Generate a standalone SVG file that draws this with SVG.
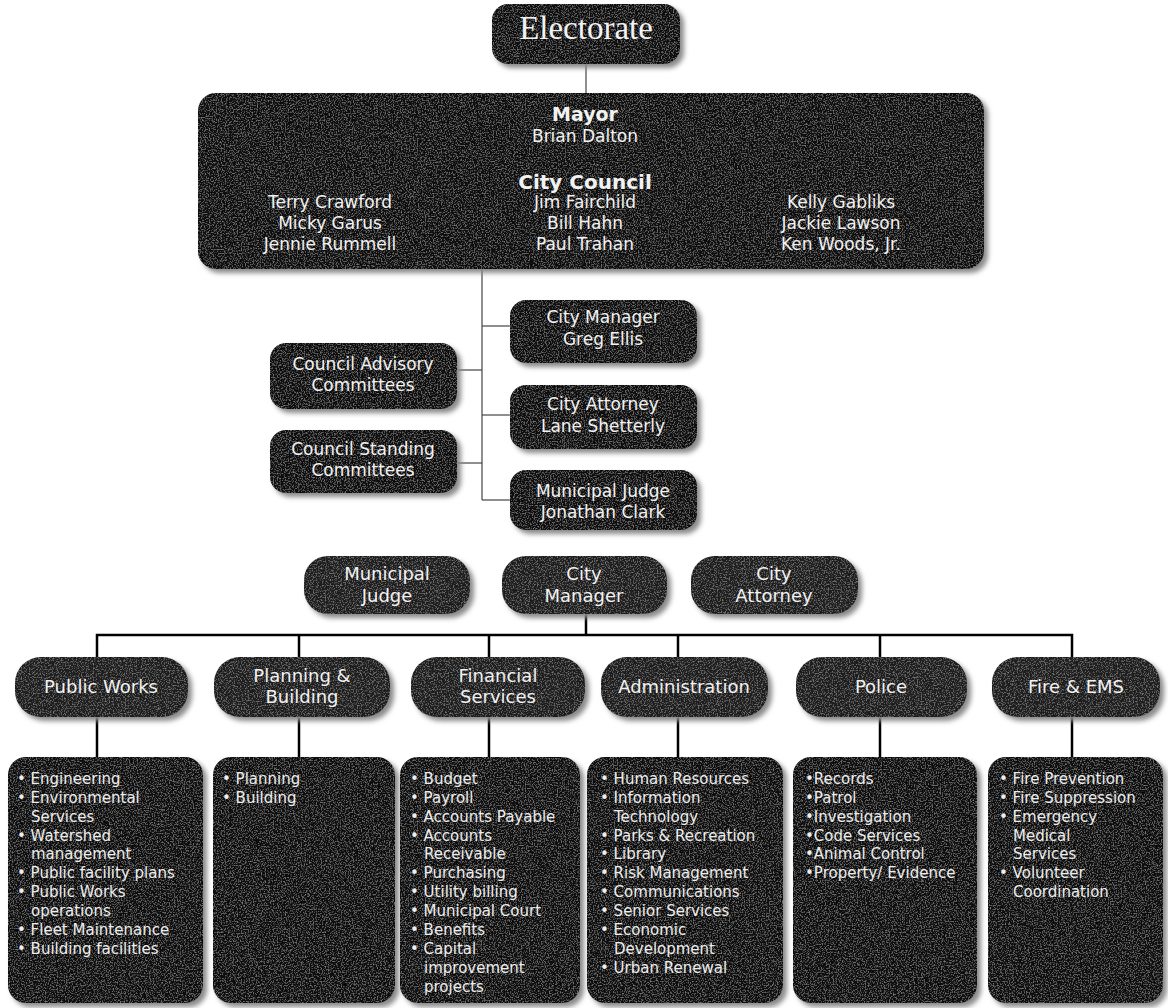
<svg xmlns="http://www.w3.org/2000/svg" width="1168" height="1008" viewBox="0 0 1168 1008">
<defs>
<filter id="sh" x="-10%" y="-10%" width="125%" height="130%">
<feGaussianBlur in="SourceAlpha" stdDeviation="2.5" result="b"/>
<feOffset in="b" dx="4" dy="4" result="o"/>
<feFlood flood-color="#8a8a8a"/>
<feComposite in2="o" operator="in" result="s"/>
<feTurbulence type="fractalNoise" baseFrequency="0.75" numOctaves="2" seed="5" result="n"/>
<feColorMatrix in="n" type="matrix" values="0 0 0 0 0.5  0 0 0 0 0.5  0 0 0 0 0.5  0 0 0 1.2 -0.58" result="w"/>
<feComposite in="w" in2="SourceAlpha" operator="in" result="g"/>
<feMerge><feMergeNode in="s"/><feMergeNode in="SourceGraphic"/><feMergeNode in="g"/></feMerge>
</filter>
</defs>
<style>
.box{fill:#0a0a0a;filter:url(#sh)}
.gbox{fill:#1a1a1a;filter:url(#sh)}
.t{font-family:"DejaVu Sans","Liberation Sans",sans-serif;fill:#f2f2f2;text-anchor:middle}
.b{font-weight:bold}
.n{font-size:17px}
.m{font-size:17px}
.d{font-size:18px}
.l{font-family:"DejaVu Sans","Liberation Sans",sans-serif;fill:#eeeeee;font-size:15px}
.thin{stroke:#444;stroke-width:1.2;fill:none}
.thick{stroke:#000;stroke-width:2.5;fill:none}
</style>
<rect width="1168" height="1008" fill="#fff"/>

<g id="connectors">
<line class="thin" x1="586" y1="64" x2="586" y2="93"/>
<line class="thin" x1="482" y1="268" x2="482" y2="500"/>
<line class="thin" x1="482" y1="326" x2="510" y2="326"/>
<line class="thin" x1="457" y1="370" x2="482" y2="370"/>
<line class="thin" x1="482" y1="415" x2="510" y2="415"/>
<line class="thin" x1="457" y1="463" x2="482" y2="463"/>
<line class="thin" x1="482" y1="500" x2="510" y2="500"/>
<line class="thick" x1="586" y1="614" x2="586" y2="635"/>
<path class="thick" d="M97 657V635H1072V657"/>
<line class="thick" x1="299" y1="635" x2="299" y2="657"/>
<line class="thick" x1="489" y1="635" x2="489" y2="657"/>
<line class="thick" x1="678" y1="635" x2="678" y2="657"/>
<line class="thick" x1="880" y1="635" x2="880" y2="657"/>
<line class="thick" x1="97" y1="717" x2="97" y2="757"/>
<line class="thick" x1="299" y1="717" x2="299" y2="757"/>
<line class="thick" x1="489" y1="717" x2="489" y2="757"/>
<line class="thick" x1="678" y1="717" x2="678" y2="757"/>
<line class="thick" x1="880" y1="717" x2="880" y2="757"/>
<line class="thick" x1="1072" y1="717" x2="1072" y2="757"/>
</g>

<g id="electorate">
<rect class="box" x="492" y="4" width="188" height="60" rx="16"/>
<text x="586" y="39" font-family="Liberation Serif,serif" font-size="33" fill="#f2f2f2" text-anchor="middle">Electorate</text>
</g>

<g id="mayor-council">
<rect class="box" x="198" y="93" width="786" height="176" rx="18"/>
<text class="t b" x="585" y="121" font-size="19">Mayor</text>
<text class="t n" x="585" y="142">Brian Dalton</text>
<text class="t b" x="585" y="189" font-size="20">City Council</text>
<text class="t n" x="330" y="208">Terry Crawford</text>
<text class="t n" x="330" y="229">Micky Garus</text>
<text class="t n" x="330" y="250">Jennie Rummell</text>
<text class="t n" x="585" y="208">Jim Fairchild</text>
<text class="t n" x="585" y="229">Bill Hahn</text>
<text class="t n" x="585" y="250">Paul Trahan</text>
<text class="t n" x="841" y="208">Kelly Gabliks</text>
<text class="t n" x="841" y="229">Jackie Lawson</text>
<text class="t n" x="841" y="250">Ken Woods, Jr.</text>
</g>

<g id="city-manager-greg-ellis">
<rect class="box" x="510" y="300" width="187" height="63" rx="16"/>
<text class="t m" x="603" y="323">City Manager</text>
<text class="t m" x="603" y="345">Greg Ellis</text>
</g>
<g id="council-advisory">
<rect class="box" x="270" y="343" width="187" height="66" rx="16"/>
<text class="t m" x="363" y="370">Council Advisory</text>
<text class="t m" x="363" y="391">Committees</text>
</g>
<g id="city-attorney-lane-shetterly">
<rect class="box" x="510" y="385" width="187" height="64" rx="16"/>
<text class="t m" x="603" y="410">City Attorney</text>
<text class="t m" x="603" y="432">Lane Shetterly</text>
</g>
<g id="council-standing">
<rect class="box" x="270" y="430" width="187" height="63" rx="16"/>
<text class="t m" x="363" y="455">Council Standing</text>
<text class="t m" x="363" y="476">Committees</text>
</g>
<g id="municipal-judge-jonathan-clark">
<rect class="box" x="510" y="470" width="187" height="60" rx="16"/>
<text class="t m" x="603" y="497">Municipal Judge</text>
<text class="t m" x="603" y="518">Jonathan Clark</text>
</g>

<g id="municipal-judge">
<rect class="gbox" x="304" y="556" width="166" height="58" rx="24"/>
<text class="t d" x="387" y="580">Municipal</text>
<text class="t d" x="387" y="602">Judge</text>
</g>
<g id="city-manager">
<rect class="gbox" x="502" y="556" width="165" height="58" rx="24"/>
<text class="t d" x="584" y="580">City</text>
<text class="t d" x="584" y="602">Manager</text>
</g>
<g id="city-attorney">
<rect class="gbox" x="691" y="556" width="167" height="58" rx="24"/>
<text class="t d" x="774" y="580">City</text>
<text class="t d" x="774" y="602">Attorney</text>
</g>

<g id="public-works">
<rect class="gbox" x="15" y="657" width="173" height="60" rx="26"/>
<text class="t d" x="101" y="693">Public Works</text>
</g>
<g id="planning-building">
<rect class="gbox" x="214" y="657" width="176" height="60" rx="26"/>
<text class="t d" x="302" y="682">Planning &amp;</text>
<text class="t d" x="302" y="703">Building</text>
</g>
<g id="financial-services">
<rect class="gbox" x="411" y="657" width="174" height="60" rx="26"/>
<text class="t d" x="498" y="682">Financial</text>
<text class="t d" x="498" y="703">Services</text>
</g>
<g id="administration">
<rect class="gbox" x="601" y="657" width="167" height="60" rx="26"/>
<text class="t d" x="684" y="693">Administration</text>
</g>
<g id="police">
<rect class="gbox" x="796" y="657" width="171" height="60" rx="26"/>
<text class="t d" x="881" y="693">Police</text>
</g>
<g id="fire-ems">
<rect class="gbox" x="992" y="657" width="168" height="60" rx="26"/>
<text class="t d" x="1076" y="693">Fire &amp; EMS</text>
</g>

<g id="public-works-list">
<rect class="box" x="8" y="757" width="195" height="246" rx="18"/>
<text class="l">
<tspan x="17" y="784">• Engineering</tspan>
<tspan x="17" y="803">• Environmental</tspan>
<tspan x="31" y="822">Services</tspan>
<tspan x="17" y="841">• Watershed</tspan>
<tspan x="31" y="859">management</tspan>
<tspan x="17" y="878">• Public facility plans</tspan>
<tspan x="17" y="897">• Public Works</tspan>
<tspan x="31" y="916">operations</tspan>
<tspan x="17" y="935">• Fleet Maintenance</tspan>
<tspan x="17" y="954">• Building facilities</tspan>
</text>
</g>
<g id="planning-building-list">
<rect class="box" x="213" y="757" width="182" height="246" rx="18"/>
<text class="l">
<tspan x="222" y="784">• Planning</tspan>
<tspan x="222" y="803">• Building</tspan>
</text>
</g>
<g id="financial-services-list">
<rect class="box" x="400" y="757" width="180" height="246" rx="18"/>
<text class="l">
<tspan x="410" y="784">• Budget</tspan>
<tspan x="410" y="803">• Payroll</tspan>
<tspan x="410" y="822">• Accounts Payable</tspan>
<tspan x="410" y="841">• Accounts</tspan>
<tspan x="424" y="859">Receivable</tspan>
<tspan x="410" y="878">• Purchasing</tspan>
<tspan x="410" y="897">• Utility billing</tspan>
<tspan x="410" y="916">• Municipal Court</tspan>
<tspan x="410" y="935">• Benefits</tspan>
<tspan x="410" y="954">• Capital</tspan>
<tspan x="424" y="973">improvement</tspan>
<tspan x="424" y="992">projects</tspan>
</text>
</g>
<g id="administration-list">
<rect class="box" x="587" y="757" width="196" height="246" rx="18"/>
<text class="l">
<tspan x="600" y="784">• Human Resources</tspan>
<tspan x="600" y="803">• Information</tspan>
<tspan x="614" y="822">Technology</tspan>
<tspan x="600" y="841">• Parks &amp; Recreation</tspan>
<tspan x="600" y="859">• Library</tspan>
<tspan x="600" y="878">• Risk Management</tspan>
<tspan x="600" y="897">• Communications</tspan>
<tspan x="600" y="916">• Senior Services</tspan>
<tspan x="600" y="935">• Economic</tspan>
<tspan x="614" y="954">Development</tspan>
<tspan x="600" y="973">• Urban Renewal</tspan>
</text>
</g>
<g id="police-list">
<rect class="box" x="793" y="757" width="184" height="246" rx="18"/>
<text class="l">
<tspan x="805" y="784">•Records</tspan>
<tspan x="805" y="803">•Patrol</tspan>
<tspan x="805" y="822">•Investigation</tspan>
<tspan x="805" y="841">•Code Services</tspan>
<tspan x="805" y="859">•Animal Control</tspan>
<tspan x="805" y="878">•Property/ Evidence</tspan>
</text>
</g>
<g id="fire-ems-list">
<rect class="box" x="988" y="757" width="175" height="246" rx="18"/>
<text class="l">
<tspan x="999" y="784">• Fire Prevention</tspan>
<tspan x="999" y="803">• Fire Suppression</tspan>
<tspan x="999" y="822">• Emergency</tspan>
<tspan x="1013" y="841">Medical</tspan>
<tspan x="1013" y="859">Services</tspan>
<tspan x="999" y="878">• Volunteer</tspan>
<tspan x="1013" y="897">Coordination</tspan>
</text>
</g>
</svg>
